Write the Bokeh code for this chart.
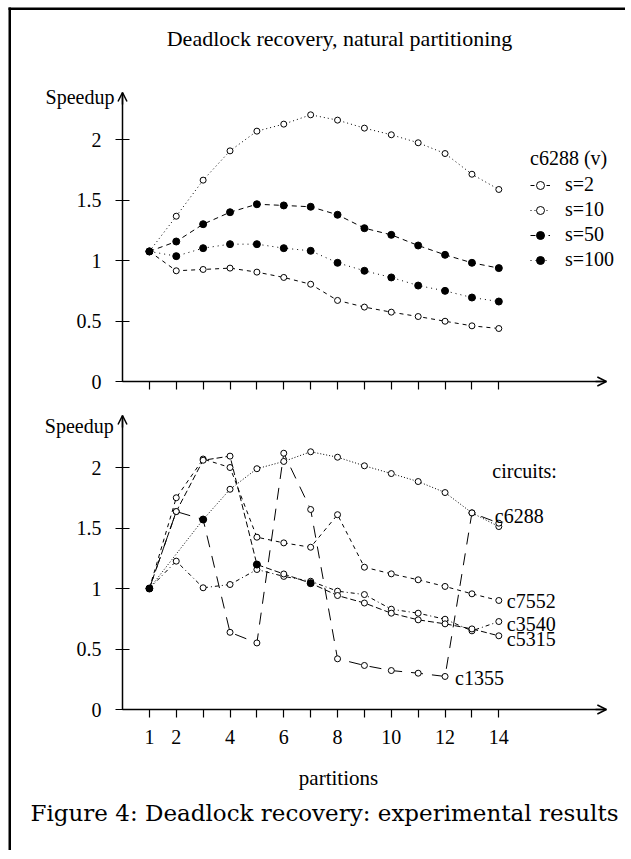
from bokeh.plotting import figure
from bokeh.models import (LinearAxis, FixedTicker, Arrow, OpenHead, Label,
                          Legend, LegendItem, Range1d, BoxAnnotation)
from bokeh.embed import file_html
from bokeh.resources import INLINE

# ---------------- data ----------------
partitions = [1, 2, 3, 4, 5, 6, 7, 8, 9, 10, 11, 12, 13, 14]

# top chart: c6288 (v), natural partitioning
s2 = [1.075, 0.915, 0.926, 0.937, 0.904, 0.860, 0.804, 0.670, 0.615, 0.573, 0.537, 0.498, 0.460, 0.438]
s10 = [1.075, 1.366, 1.664, 1.906, 2.069, 2.127, 2.204, 2.160, 2.094, 2.039, 1.973, 1.884, 1.713, 1.587]
s50 = [1.075, 1.157, 1.300, 1.399, 1.465, 1.455, 1.444, 1.378, 1.267, 1.212, 1.124, 1.047, 0.981, 0.937]
s100 = [1.075, 1.036, 1.102, 1.135, 1.135, 1.102, 1.080, 0.981, 0.915, 0.860, 0.793, 0.749, 0.694, 0.661]

# bottom chart: circuits
c6288_x = [1, 3, 4, 5, 6, 7, 8, 9, 10, 11, 12, 13, 14]
c6288 = [1.0, 1.57, 1.82, 1.99, 2.05, 2.13, 2.085, 2.014, 1.95, 1.884, 1.793, 1.625, 1.512]
c7552 = [1.0, 1.75, 2.07, 2.0, 1.424, 1.377, 1.341, 1.61, 1.176, 1.121, 1.072, 1.017, 0.956, 0.901]
c5315 = [1.0, 1.636, 2.06, 2.094, 1.198, 1.12, 1.044, 0.942, 0.88, 0.796, 0.741, 0.708, 0.666, 0.609]
c3540 = [1.0, 1.226, 1.006, 1.033, 1.157, 1.10, 1.06, 0.978, 0.95, 0.829, 0.796, 0.746, 0.65, 0.727]
c1355 = [1.0, 1.636, 1.57, 0.638, 0.55, 2.118, 1.653, 0.419, 0.364, 0.322, 0.30, 0.273, 1.625, 1.54]
filled_x = [1, 3, 5, 7]
filled_y = [1.0, 1.57, 1.198, 1.044]

y_ticks = [0, 0.5, 1, 1.5, 2]
y_tick_labels = {0: "0", 0.5: "0.5", 1: "1", 1.5: "1.5", 2: "2"}
x_major_ticks = [1, 2, 4, 6, 8, 10, 12, 14]
x_minor_ticks = [3, 5, 7, 9, 11, 13]

SERIF = "Liberation Serif"
W, H = 625, 850
PXX, PXY = 26.88, 121.0          # pixels per partition / per speedup unit
X0 = 122                         # pixel column of partition 0
Y0_TOP, Y0_BOT = 381, 709        # pixel rows of speedup 0
TOP_END = (Y0_TOP - 92) / PXY    # top of the upper y axis
BOT_END = (Y0_BOT - 415) / PXY   # top of the lower y axis
AX_END = 18.0

p = figure(width=W, height=H,
           x_range=Range1d(-X0 / PXX, (W - X0) / PXX),
           y_range=Range1d(-(H - Y0_BOT) / PXY, Y0_BOT / PXY),
           output_backend="svg", toolbar_location=None,
           x_axis_location=None, y_axis_location=None,
           min_border=0, min_border_left=0, min_border_right=0,
           min_border_top=0, min_border_bottom=0)
p.extra_y_ranges = {"top": Range1d(-(H - Y0_TOP) / PXY, Y0_TOP / PXY)}
p.grid.visible = False
p.outline_line_color = None
p.background_fill_color = "white"
p.border_fill_color = "white"

# page frame (left and top rules)
p.add_layout(BoxAnnotation(left=(8 - X0) / PXX, right=(10.5 - X0) / PXX,
                           top=(Y0_BOT - 7) / PXY, fill_color="black",
                           fill_alpha=1, line_alpha=0))
p.add_layout(BoxAnnotation(left=(8 - X0) / PXX, top=(Y0_BOT - 7) / PXY,
                           bottom=(Y0_BOT - 9.5) / PXY, fill_color="black",
                           fill_alpha=1, line_alpha=0))


def add_axes(rname, yend, xlabels):
    ya = LinearAxis(ticker=FixedTicker(ticks=y_ticks), bounds=(0, yend),
                    fixed_location=0, y_range_name=rname)
    ya.major_label_overrides = y_tick_labels
    ya.major_tick_in = 7
    ya.major_tick_out = 7
    ya.minor_tick_line_color = None
    ya.axis_line_width = 1.5
    ya.major_tick_line_width = 1.2
    ya.major_label_standoff = 14
    ya.major_label_text_font = SERIF
    ya.major_label_text_font_size = "20px"
    ya.major_label_text_color = "black"
    p.add_layout(ya, "left")

    if xlabels:
        tk = FixedTicker(ticks=x_major_ticks, minor_ticks=x_minor_ticks)
    else:
        tk = FixedTicker(ticks=[], minor_ticks=partitions)
    xa = LinearAxis(ticker=tk, bounds=(0, AX_END), fixed_location=0,
                    y_range_name=rname)
    xa.major_tick_in = 0
    xa.major_tick_out = 8
    xa.minor_tick_in = 0
    xa.minor_tick_out = 8
    xa.axis_line_width = 1.5
    xa.major_tick_line_width = 1.2
    xa.minor_tick_line_width = 1.2
    xa.major_label_standoff = 12
    xa.major_label_text_font = SERIF
    xa.major_label_text_font_size = "20px"
    xa.major_label_text_color = "black"
    p.add_layout(xa, "below")

    p.add_layout(Arrow(end=OpenHead(size=9, line_width=1.5), line_width=1.5,
                       x_start=AX_END - 0.4, y_start=0, x_end=AX_END, y_end=0,
                       y_range_name=rname))
    p.add_layout(Arrow(end=OpenHead(size=9, line_width=1.5), line_width=1.5,
                       x_start=0, y_start=yend - 0.1, x_end=0, y_end=yend,
                       y_range_name=rname))


def label(x, y, text, rname="default", xo=0, yo=0, size="20px", align="left",
          font=SERIF):
    p.add_layout(Label(x=x, y=y, x_offset=xo, y_offset=yo, text=text,
                       y_range_name=rname, text_font=font,
                       text_font_size=size, text_align=align,
                       text_baseline="middle", text_color="black"))


# ---------------- top chart ----------------
add_axes("top", TOP_END, False)

kw = dict(y_range_name="top", line_color="black", line_width=1)
r_s2_l = p.line(partitions, s2, line_dash="4 4", **kw)
r_s2_m = p.scatter(partitions, s2, size=6, marker="circle", fill_color="white", **kw)
r_s10_l = p.line(partitions, s10, line_dash="1 3", **kw)
r_s10_m = p.scatter(partitions, s10, size=6, marker="circle", fill_color="white", **kw)
r_s50_l = p.line(partitions, s50, line_dash="5 4", **kw)
r_s50_m = p.scatter(partitions, s50, size=7, marker="circle", fill_color="black", **kw)
r_s100_l = p.line(partitions, s100, line_dash="1 4", **kw)
r_s100_m = p.scatter(partitions, s100, size=7, marker="circle", fill_color="black", **kw)

legend = Legend(items=[
    LegendItem(label="s=2", renderers=[r_s2_l, r_s2_m]),
    LegendItem(label="s=10", renderers=[r_s10_l, r_s10_m]),
    LegendItem(label="s=50", renderers=[r_s50_l, r_s50_m]),
    LegendItem(label="s=100", renderers=[r_s100_l, r_s100_m]),
], location=(530, H - 271), title="c6288 (v)")
legend.title_text_font = SERIF
legend.title_text_font_size = "20px"
legend.title_text_font_style = "normal"
legend.title_text_color = "black"
legend.title_standoff = 3
legend.label_text_font = SERIF
legend.label_text_font_size = "20px"
legend.label_text_font_style = "normal"
legend.label_text_color = "black"
legend.label_height = 20
legend.glyph_height = 20
legend.glyph_width = 20
legend.label_standoff = 15
legend.spacing = 2
legend.padding = 0
legend.margin = 0
legend.border_line_color = None
legend.background_fill_alpha = 0
p.add_layout(legend)

label((339 - X0) / PXX, (Y0_TOP - 38) / PXY, "Deadlock recovery, natural partitioning",
      rname="top", size="22px", align="center")
label(-0.3, (Y0_TOP - 96) / PXY, "Speedup", rname="top", align="right")

# ---------------- bottom chart ----------------
add_axes("default", BOT_END, True)

kb = dict(line_color="black", line_width=1)
p.line(c6288_x, c6288, line_dash="1 2", **kb)
p.scatter(c6288_x, c6288, size=6, marker="circle", fill_color="white", **kb)
p.line(partitions, c7552, line_dash="4 4", **kb)
p.scatter(partitions, c7552, size=6, marker="circle", fill_color="white", **kb)
p.line(partitions, c3540, line_dash="4 3 1 3", **kb)
p.scatter(partitions, c3540, size=6, marker="circle", fill_color="white", **kb)
p.line(partitions, c5315, line_dash="6 3", **kb)
p.scatter(partitions, c5315, size=6, marker="circle", fill_color="white", **kb)
p.line(partitions, c1355, line_dash="12 9", **kb)
p.scatter(partitions, c1355, size=6, marker="circle", fill_color="white", **kb)
p.scatter(filled_x, filled_y, size=7, marker="circle", fill_color="black", **kb)

label(-0.33, (Y0_BOT - 425) / PXY, "Speedup", align="right")
label(13.76, 1.967, "circuits:")
label(14, 1.603, "c6288", xo=-4)
label(14, c7552[-1], "c7552", xo=8, yo=-1)
label(14, c3540[-1], "c3540", xo=8, yo=-2)
label(14, c5315[-1], "c5315", xo=8, yo=-3)
label(12, c1355[11], "c1355", xo=10, yo=-2)
label((338 - X0) / PXX, -(777 - Y0_BOT) / PXY, "partitions", size="21px", align="center")
label((30 - X0) / PXX, -(812 - Y0_BOT) / PXY,
      "Figure 4: Deadlock recovery: experimental results",
      size="23px", font="DejaVu Serif")

open("out.html", "w").write(file_html(p, INLINE))
